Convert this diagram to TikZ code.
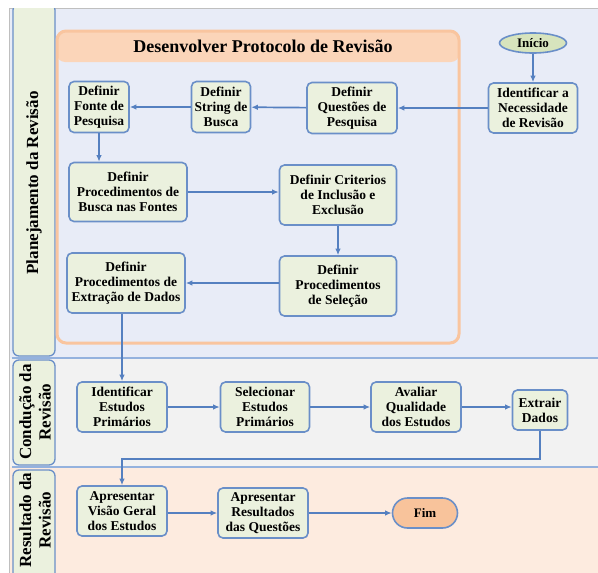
\documentclass[tikz,border=0pt]{standalone}
\usepackage{fontspec}
\setmainfont{Liberation Serif}
\usetikzlibrary{arrows.meta,shapes.geometric}

\definecolor{laneplan}{HTML}{E8ECF7}
\definecolor{lanecond}{HTML}{F2F2F2}
\definecolor{laneres}{HTML}{FDEBDF}
\definecolor{boxfill}{HTML}{EBF1DE}
\definecolor{boxline}{HTML}{6A8FC8}
\definecolor{flow}{HTML}{5580C0}
\definecolor{laneline}{HTML}{94B2DE}
\definecolor{protoline}{HTML}{F9C59F}
\definecolor{protofill}{HTML}{FBD5B9}
\definecolor{endfill}{HTML}{F8C39B}
\definecolor{startfill}{HTML}{D7E4BD}
\definecolor{frame}{HTML}{BFBFBF}

\tikzset{
  stepbox/.style={draw=boxline, fill=boxfill, line width=1.6pt, rounded corners=5pt,
    align=center, inner sep=2pt, font=\bfseries\fontsize{13.5}{15}\selectfont},
  lanelabel/.style={draw=boxline, fill=boxfill, line width=1.3pt, rounded corners=6pt},
  lanetext/.style={rotate=90, align=center, font=\bfseries\fontsize{17}{19.5}\selectfont},
  link/.style={draw=flow, line width=1.7pt, -{Latex[length=6.5pt,width=5.5pt]}},
}

\begin{document}
\begin{tikzpicture}[x=1pt,y=-1pt]
\useasboundingbox (0,0) rectangle (598,573);
\fill[white] (0,0) rectangle (598,573);

% swimlane backgrounds
\fill[laneplan] (9,8) rectangle (598,358);
\fill[lanecond] (9,358) rectangle (598,467);
\fill[laneres] (9,467) rectangle (598,573);
\draw[frame, line width=0.8pt] (9,573) -- (9,8) -- (598,8);
\draw[laneline, line width=1.5pt] (12,358) -- (598,358);
\draw[laneline, line width=1.5pt] (12,467) -- (598,467);

% lane headers
\begin{scope}
\clip (9,8) rectangle (598,573);
\draw[lanelabel] (13,4) rectangle (55,356);
\draw[lanelabel] (13,360) rectangle (55,465);
\draw[lanelabel] (13,470) rectangle (55,585);
\end{scope}
\node[lanetext] (lplan) at (34,183) {Planejamento da Revisão};
\node[lanetext] (lcond) at (35,412) {Condução da\\Revisão};
\node[lanetext] (lres) at (35,520) {Resultado da\\Revisão};

% protocol container
\fill[protofill, rounded corners=8pt] (57,31) rectangle (459,62);
\draw[protoline, line width=3pt, rounded corners=9pt] (57,31) rectangle (459,343);
\node[font=\bfseries\fontsize{18}{20}\selectfont] (ptitle) at (263,46) {Desenvolver Protocolo de Revisão};

% planning steps
\node[ellipse, draw=boxline, fill=startfill, line width=1.6pt, minimum width=67pt, minimum height=20pt,
      inner sep=0pt, font=\bfseries\fontsize{13}{15}\selectfont] (start) at (533,43) {Início};
\node[stepbox, minimum width=89pt, minimum height=50pt] (need) at (533,108) {Identificar a\\Necessidade\\de Revisão};
\node[stepbox, minimum width=90pt, minimum height=51pt] (quest) at (352,108) {Definir\\Questões de\\Pesquisa};
\node[stepbox, minimum width=59pt, minimum height=51pt] (string) at (221,107) {Definir\\String de\\Busca};
\node[stepbox, minimum width=60pt, minimum height=51pt] (source) at (99,107) {Definir\\Fonte de\\Pesquisa};
\node[stepbox, minimum width=118pt, minimum height=59pt] (search) at (128,192) {Definir\\Procedimentos de\\Busca nas Fontes};
\node[stepbox, minimum width=117pt, minimum height=60pt] (crit) at (338,195) {Definir Criterios\\de Inclusão e\\Exclusão};
\node[stepbox, minimum width=117pt, minimum height=60pt] (selproc) at (338,286) {Definir\\Procedimentos\\de Seleção};
\node[stepbox, minimum width=118pt, minimum height=60pt] (extproc) at (126,283) {Definir\\Procedimentos de\\Extração de Dados};

% conduction steps
\node[stepbox, minimum width=90pt, minimum height=50pt] (ident) at (122,407) {Identificar\\Estudos\\Primários};
\node[stepbox, minimum width=89pt, minimum height=50pt] (select) at (265,407) {Selecionar\\Estudos\\Primários};
\node[stepbox, minimum width=90pt, minimum height=50pt] (assess) at (416,407) {Avaliar\\Qualidade\\dos Estudos};
\node[stepbox, minimum width=55pt, minimum height=40pt] (extract) at (540,410) {Extrair\\Dados};

% result steps
\node[stepbox, minimum width=90pt, minimum height=50pt] (overview) at (122,511) {Apresentar\\Visão Geral\\dos Estudos};
\node[stepbox, minimum width=90pt, minimum height=50pt] (results) at (263,513) {Apresentar\\Resultados\\das Questões};
\node[draw=boxline, fill=endfill, line width=1.6pt, rounded corners=15pt, minimum width=65pt, minimum height=30pt,
      font=\bfseries\fontsize{13}{15}\selectfont] (finish) at (425,513) {Fim};

% flow
\draw[link] (start) -- (need);
\draw[link] (need) -- (quest);
\draw[link] (quest) -- (string);
\draw[link] (string) -- (source);
\draw[link] (source.south) -- (source.south |- search.north);
\draw[link] (search.east) -- (search.east -| crit.west);
\draw[link] (crit) -- (selproc);
\draw[link] (selproc.west |- extproc.east) -- (extproc.east);
\draw[link] (extproc.south -| ident.north) -- (ident.north);
\draw[link] (ident) -- (select);
\draw[link] (select) -- (assess);
\draw[link] (assess.east) -- (assess.east -| extract.west);
\draw[link] (extract.south) -- ++(0,28) -| (overview.north);
\draw[link] (overview.east |- results.west) -- (results.west);
\draw[link] (results) -- (finish);
\end{tikzpicture}
\end{document}
